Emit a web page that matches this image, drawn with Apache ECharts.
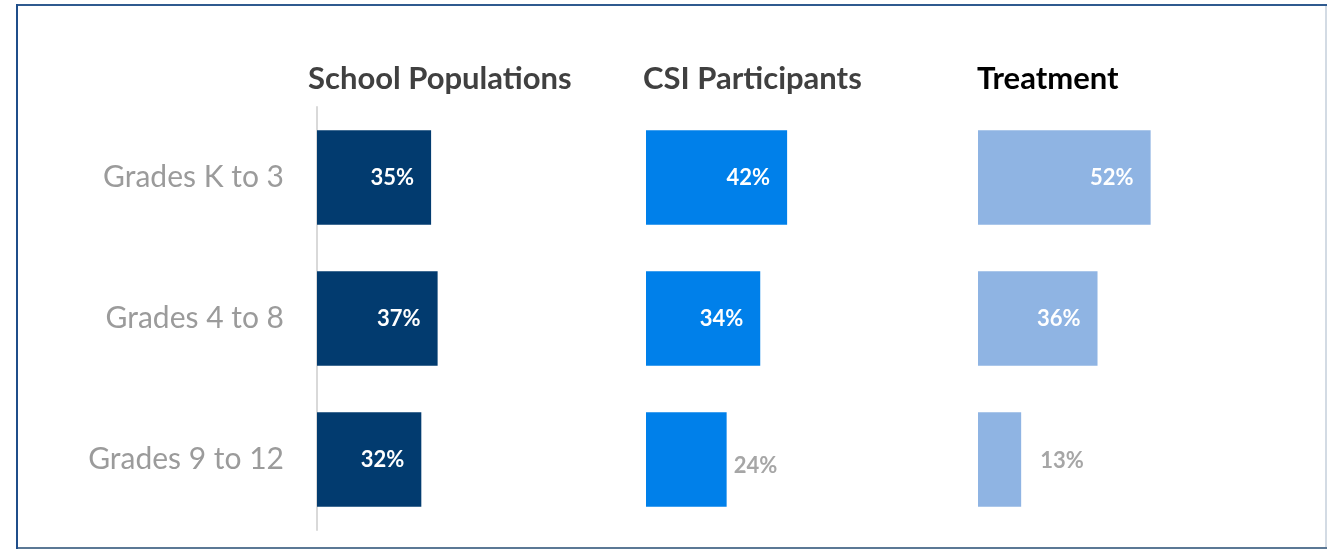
<!DOCTYPE html>
<html>
<head>
<meta charset="utf-8">
<script src="https://cdn.jsdelivr.net/npm/echarts@6/dist/echarts.min.js"></script>
<style>
  html, body { margin: 0; padding: 0; background: #fff; }
  #chart { width: 1327px; height: 550px; }
</style>
</head>
<body>
<div id="chart"></div>
<script>
// grade bands, top to bottom
const grades = ['Grades K to 3', 'Grades 4 to 8', 'Grades 9 to 12'];
const panelTitles = ['School Populations', 'CSI Participants', 'Treatment'];
// shares in percent
const schoolPopulations = [35, 37, 32];
const csiParticipants = [42, 34, 24];
const treatment = [52, 36, 13];

const FONT = 'Lato';

const panels = [
  { values: schoolPopulations, color: '#023b6f', left: 317, width: 326, titleColor: '#404040', titleLeft: 308, outDist: 10, outDy: 0 },
  { values: csiParticipants, color: '#0080ea', left: 646, width: 336, titleColor: '#404040', titleLeft: 643, outDist: 7, outDy: 6 },
  { values: treatment, color: '#8fb4e3', left: 978, width: 332, titleColor: '#000000', titleLeft: 977, outDist: 19, outDy: 1 }
];

const chart = echarts.init(document.getElementById('chart'));

const grid = [], xAxis = [], yAxis = [], series = [], title = [];
panels.forEach((p, i) => {
  grid.push({ left: p.left, width: p.width, top: 107, bottom: 20, containLabel: false });
  xAxis.push({ type: 'value', gridIndex: i, min: 0, max: 100, show: false });
  yAxis.push({
    type: 'category',
    gridIndex: i,
    data: grades,
    inverse: true,
    axisTick: { show: false },
    axisLine: { show: i === 0, lineStyle: { color: '#d9d9d9', width: 2 } },
    axisLabel: {
      show: i === 0,
      margin: 33,
      color: '#9b9b9b',
      fontFamily: FONT,
      fontSize: 30
    },
    splitLine: { show: false }
  });
  title.push({
    text: panelTitles[i],
    left: p.titleLeft,
    top: 63,
    padding: 0,
    textStyle: { fontFamily: FONT, fontWeight: 'bold', fontSize: 31, color: p.titleColor }
  });
  series.push({
    type: 'bar',
    xAxisIndex: i,
    yAxisIndex: i,
    barCategoryGap: '33%',
    itemStyle: { color: p.color },
    data: p.values.map(v => {
      const outside = v < 30;
      return {
        value: v,
        label: outside
          ? { position: 'right', distance: p.outDist, offset: [0, p.outDy], color: '#a6a6a6' }
          : { position: 'insideRight', distance: 17, color: '#ffffff' }
      };
    }),
    label: {
      show: true,
      formatter: '{c}%',
      fontFamily: FONT,
      fontWeight: 'bold',
      fontSize: 22
    }
  });
});

chart.setOption({
  backgroundColor: '#ffffff',
  animation: false,
  title: title,
  grid: grid,
  xAxis: xAxis,
  yAxis: yAxis,
  series: series,
  graphic: [
    { type: 'line', shape: { x1: 1326, y1: 5, x2: 1326, y2: 549 }, style: { stroke: '#d3dbe4', lineWidth: 2 } },
    { type: 'line', shape: { x1: 16, y1: 548, x2: 1327, y2: 548 }, style: { stroke: '#5b7895', lineWidth: 2 } },
    { type: 'line', shape: { x1: 16, y1: 5, x2: 1327, y2: 5 }, style: { stroke: '#2f5a8f', lineWidth: 2 } },
    { type: 'line', shape: { x1: 17, y1: 4, x2: 17, y2: 549 }, style: { stroke: '#1f4e8a', lineWidth: 2 } }
  ]
});
</script>
</body>
</html>
